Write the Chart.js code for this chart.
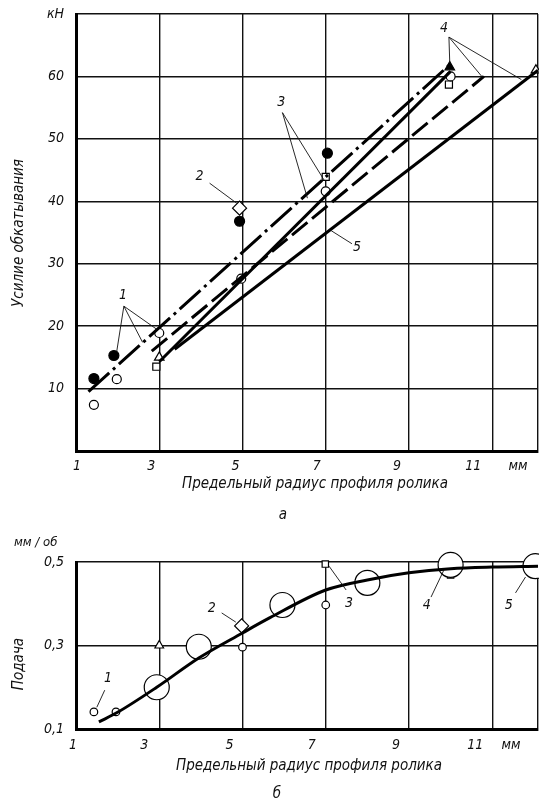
<!DOCTYPE html>
<html lang="ru">
<head>
<meta charset="UTF-8">
<title>Усилие обкатывания и подача</title>
<style>
  body { margin: 0; background: #fff; }
  .box { position: absolute; left: 0; }
</style>
</head>
<body>
<div class="box" style="top:0"><canvas id="topChart" width="539" height="520"></canvas></div>
<div class="box" style="top:520px"><canvas id="botChart" width="539" height="281"></canvas></div>

<script src="https://cdn.jsdelivr.net/npm/chart.js"></script>
<script>
// ---- а) усилие обкатывания, кН ----
const forceFilledX = [1.43, 1.91, 4.93, 7.04];
const forceFilledY = [11.6, 15.3, 36.8, 47.7];
const forceOpenX = [1.43, 1.98, 3.0, 4.97, 7.0, 10.0];
const forceOpenY = [7.4, 11.5, 18.9, 27.6, 41.6, 60.0];
const forceSquareX = [2.93, 7.0, 9.96];
const forceSquareY = [13.5, 43.9, 58.7];
const forceTriX = [3.0, 12.05];
const forceTriY = [15.0, 61.0];
const forceTriFilledX = [9.98];
const forceTriFilledY = [61.5];
const forceDiamondX = [4.93];
const forceDiamondY = [38.9];

const line1X = [1.3, 10.0];   const line1Y = [9.5, 62.0];   // штрихпунктир
const line3X = [3.0, 10.0];   const line3Y = [14.3, 60.8];  // сплошная
const line4X = [2.82, 10.8];  const line4Y = [16.0, 60.0];  // штриховая
const line5X = [3.37, 12.1];  const line5Y = [16.3, 61.0];  // сплошная

const forceTicks = [0, 10, 20, 30, 40, 50, 60, 70];

// ---- б) подача, мм/об ----
const feedCurveX = [1.55, 2.0, 2.94, 3.95, 5.0, 5.65, 7.0, 8.0, 9.0, 10.0, 11.0, 12.1];
const feedCurveY = [0.117, 0.14, 0.2, 0.27, 0.33, 0.366, 0.433, 0.457, 0.474, 0.484, 0.488, 0.49];
const feedSmallX = [1.43, 1.96, 2.94, 5.0, 7.0, 10.0];
const feedSmallY = [0.141, 0.141, 0.2, 0.296, 0.397, 0.49];
const feedBigX = [2.94, 3.95, 5.96, 8.0, 10.0, 12.04];
const feedBigY = [0.2, 0.297, 0.397, 0.45, 0.493, 0.49];
const feedSquareX = [2.92, 6.99, 10.0];
const feedSquareY = [0.184, 0.495, 0.469];
const feedTriX = [3.0, 10.0, 12.05];
const feedTriY = [0.30, 0.51, 0.49];
const feedDiamondX = [4.98];
const feedDiamondY = [0.347];

const feedTicks = [0.1, 0.3, 0.5];

// ---- общая ось ----
const xGrid = [1, 3, 5, 7, 9, 11, 12.1];
const xTickLabels = ['1', '3', '5', '7', '9', '11', 'мм'];

const FONT = '"DejaVu Sans Condensed", "DejaVu Sans", sans-serif';
const pts = (xs, ys) => xs.map((x, i) => ({ x, y: ys[i] }));

function markers(xs, ys, style, r, fill) {
  return {
    data: pts(xs, ys), pointStyle: style, pointRadius: r,
    backgroundColor: fill ? '#000' : '#fff', borderColor: '#000',
    pointBorderWidth: 1.2, showLine: false, clip: false
  };
}
function line(xs, ys, dash, w) {
  return {
    data: pts(xs, ys), showLine: true, pointRadius: 0, borderColor: '#000',
    borderWidth: w || 3, borderDash: dash || [], borderCapStyle: 'butt', clip: false
  };
}

// подписи, выноски, названия осей
const notes = {
  id: 'notes',
  afterDraw(chart, args, o) {
    const { ctx, scales: { x, y } } = chart;
    ctx.save();
    ctx.fillStyle = '#111';
    ctx.strokeStyle = '#111';
    ctx.font = 'italic 14px ' + FONT;
    ctx.textAlign = 'center';
    ctx.textBaseline = 'middle';
    xGrid.forEach((v, i) => {
      ctx.fillText(xTickLabels[i], x.getPixelForValue(v) + o.nudge[i], x.top + o.tickGap);
    });
    ctx.lineWidth = 0.9;
    o.leaders.forEach(l => {
      ctx.beginPath();
      l.to.forEach(t => {
        ctx.moveTo(x.getPixelForValue(l.from[0]), y.getPixelForValue(l.from[1]));
        ctx.lineTo(x.getPixelForValue(t[0]), y.getPixelForValue(t[1]));
      });
      ctx.stroke();
      ctx.fillText(l.text, x.getPixelForValue(l.at[0]), y.getPixelForValue(l.at[1]));
    });
    ctx.font = 'italic 15px ' + FONT;
    ctx.fillText(o.xTitle, o.xTitlePos[0], o.xTitlePos[1]);
    ctx.fillText(o.letter, o.letterPos[0], o.letterPos[1]);
    if (o.unit) {
      ctx.font = 'italic 13px ' + FONT;
      ctx.textAlign = 'left';
      ctx.fillText(o.unit, o.unitPos[0], o.unitPos[1]);
    }
    ctx.font = 'italic 15px ' + FONT;
    ctx.textAlign = 'center';
    ctx.translate(o.yTitlePos[0], o.yTitlePos[1]);
    ctx.rotate(-Math.PI / 2);
    ctx.fillText(o.yTitle, 0, 0);
    ctx.restore();
  }
};

function scales(yMin, yMax, yTicks, yLabel, xHeight) {
  return {
    x: {
      type: 'linear', min: 1, max: 12.1,
      afterBuildTicks: s => { s.ticks = xGrid.map(v => ({ value: v })); },
      afterFit: s => { s.height = xHeight; },
      ticks: { display: false },
      grid: { color: '#111', lineWidth: 1.4, drawTicks: false },
      border: { color: '#000', width: 3 }
    },
    y: {
      type: 'linear', min: yMin, max: yMax,
      afterBuildTicks: s => { s.ticks = yTicks.map(v => ({ value: v })); },
      afterFit: s => { s.width = 76; s.paddingTop = 0; s.paddingBottom = 0; },
      ticks: {
        padding: 12, color: '#111',
        font: { family: FONT, size: 14, style: 'italic' },
        callback: yLabel
      },
      grid: { color: '#111', lineWidth: 1.4, drawTicks: false },
      border: { color: '#000', width: 3 }
    }
  };
}

const common = {
  responsive: false, animation: false,
  plugins: { legend: { display: false }, tooltip: { enabled: false } }
};

new Chart(document.getElementById('topChart'), {
  type: 'scatter',
  data: {
    datasets: [
      line(line5X, line5Y),
      line(line4X, line4Y, [20, 6]),
      line(line3X, line3Y),
      line(line1X, line1Y, [28, 5, 3, 5]),
      markers(forceOpenX, forceOpenY, 'circle', 4.5, false),
      markers(forceSquareX, forceSquareY, 'rect', 5, false),
      markers(forceTriX, forceTriY, 'triangle', 5.5, false),
      markers(forceDiamondX, forceDiamondY, 'rectRot', 7, false),
      markers(forceFilledX, forceFilledY, 'circle', 5, true),
      markers(forceTriFilledX, forceTriFilledY, 'triangle', 5.5, true)
    ]
  },
  options: {
    ...common,
    layout: { autoPadding: false, padding: { top: 14, right: 1, left: 0, bottom: 0 } },
    scales: scales(0, 70, forceTicks, v => (v === 0 ? '' : v === 70 ? 'кН' : String(v)), 69),
    plugins: {
      ...common.plugins,
      notes: {
        nudge: [1, -8, -7, -9, -12, -19, -20], tickGap: 15,
        xTitle: 'Предельный радиус профиля ролика', xTitlePos: [315, 484],
        letter: 'а', letterPos: [283, 515],
        yTitle: 'Усилие обкатывания', yTitlePos: [19, 233],
        leaders: [
          { text: '1', at: [2.13, 24.9], from: [2.15, 23.2], to: [[1.98, 16.0], [2.6, 17.4], [2.94, 19.5]] },
          { text: '2', at: [3.97, 44.0], from: [4.21, 42.9], to: [[4.86, 39.7]] },
          { text: '3', at: [5.93, 55.9], from: [5.96, 54.2], to: [[6.56, 40.5], [6.96, 43.4]] },
          { text: '4', at: [9.84, 67.7], from: [9.96, 66.3], to: [[9.98, 62.2], [10.75, 60.0], [11.7, 59.5]] },
          { text: '5', at: [7.75, 32.6], from: [7.63, 33.2], to: [[7.13, 35.3]] }
        ]
      }
    }
  },
  plugins: [notes]
});

new Chart(document.getElementById('botChart'), {
  type: 'scatter',
  data: {
    datasets: [
      Object.assign(line(feedCurveX, feedCurveY), { cubicInterpolationMode: 'monotone' }),
      markers(feedBigX, feedBigY, 'circle', 12.5, false),
      markers(feedSmallX, feedSmallY, 'circle', 3.8, false),
      markers(feedSquareX, feedSquareY, 'rect', 4.5, false),
      markers(feedTriX, feedTriY, 'triangle', 5, false),
      markers(feedDiamondX, feedDiamondY, 'rectRot', 7, false)
    ]
  },
  options: {
    ...common,
    layout: { autoPadding: false, padding: { top: 42, right: 1, left: 0, bottom: 0 } },
    scales: scales(0.1, 0.5, feedTicks, v => v.toFixed(1).replace('.', ','), 72),
    plugins: {
      ...common.plugins,
      notes: {
        nudge: [-3, -15, -13, -14, -13, -17, -27], tickGap: 16,
        xTitle: 'Предельный радиус профиля ролика', xTitlePos: [309, 246],
        letter: 'б', letterPos: [277, 274],
        unit: 'мм / об', unitPos: [14, 23],
        yTitle: 'Подача', yTitlePos: [19, 144],
        leaders: [
          { text: '1', at: [1.77, 0.222], from: [1.69, 0.193], to: [[1.5, 0.152]] },
          { text: '2', at: [4.26, 0.39], from: [4.5, 0.378], to: [[4.84, 0.356]] },
          { text: '3', at: [7.56, 0.402], from: [7.49, 0.433], to: [[7.08, 0.49]] },
          { text: '4', at: [9.43, 0.397], from: [9.53, 0.416], to: [[9.84, 0.481]] },
          { text: '5', at: [11.4, 0.397], from: [11.56, 0.426], to: [[11.8, 0.464]] }
        ]
      }
    }
  },
  plugins: [notes]
});
</script>
</body>
</html>
